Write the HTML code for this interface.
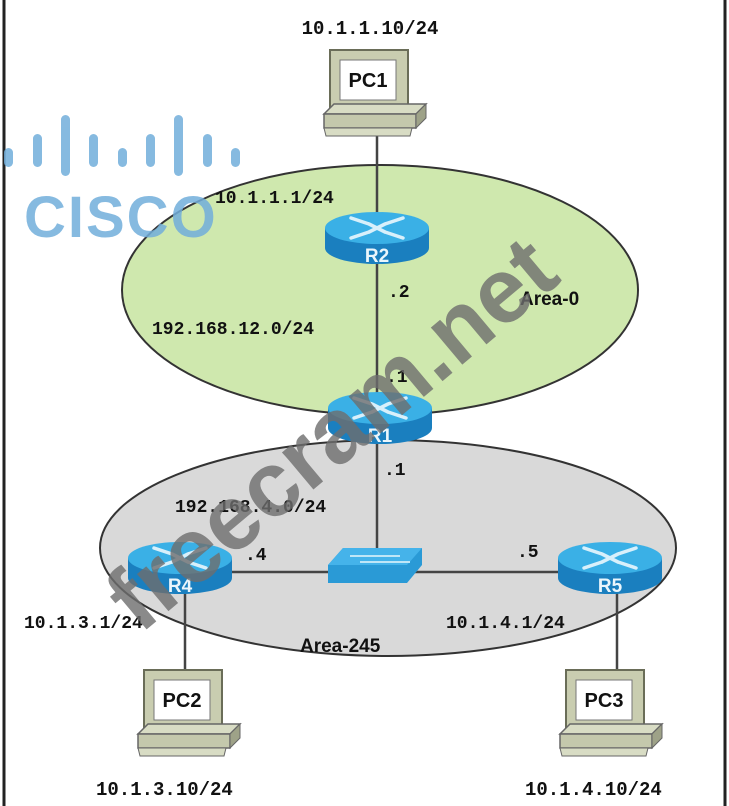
<!DOCTYPE html>
<html><head><style>
html,body{margin:0;padding:0;background:#fff;width:729px;height:806px;overflow:hidden}
svg{display:block}
text{font-family:"Liberation Mono","DejaVu Sans Mono",monospace;font-weight:bold;fill:#111}
.s{font-family:"Liberation Sans",sans-serif;font-weight:bold}
</style></head><body>
<svg width="729" height="806" viewBox="0 0 729 806" xmlns="http://www.w3.org/2000/svg">
<defs>
<g id="router">
  <path d="M-52,-8 L-52,12 A52,16 0 0 0 52,12 L52,-8 Z" fill="#1a7fbf"/>
  <ellipse cx="0" cy="-8" rx="52" ry="16" fill="#3ab0e6"/>
  <g stroke="#d8f0fb" stroke-width="3.5" fill="none" stroke-linecap="round">
    <path d="M-26,-18 L-8,-12 M-26,2 L-8,-4 M26,-18 L8,-12 M26,2 L8,-4 M-8,-12 L8,-4 M8,-12 L-8,-4"/>
  </g>
</g>
<g id="pc">
  <rect x="-42" y="-50" width="78" height="60" fill="#c9cdb0" stroke="#6a6d58" stroke-width="2"/>
  <rect x="-32" y="-40" width="56" height="40" fill="#fff" stroke="#777" stroke-width="1"/>
  <path d="M-48,14 L44,14 L54,4 L-38,4 Z" fill="#d8dcc4" stroke="#666" stroke-width="1.5"/>
  <rect x="-48" y="14" width="92" height="14" fill="#c4c8ac" stroke="#666" stroke-width="1.5"/>
  <path d="M44,14 L54,4 L54,18 L44,28 Z" fill="#9ea288" stroke="#666" stroke-width="1"/>
  <path d="M-48,28 L40,28 L38,36 L-46,36 Z" fill="#d8dcc4" stroke="#666" stroke-width="1"/>
</g>
</defs>
<rect x="0" y="0" width="729" height="806" fill="#fff"/>
<rect x="4" y="-2" width="721" height="812" fill="none" stroke="#222" stroke-width="3"/>

<ellipse cx="380" cy="290" rx="258" ry="125" fill="#cfe8ae" stroke="#333" stroke-width="2"/>
<ellipse cx="388" cy="548" rx="288" ry="108" fill="#d9d9d9" stroke="#333" stroke-width="2"/>

<g stroke="#444" stroke-width="2.5">
  <line x1="377" y1="120" x2="377" y2="565"/>
  <line x1="180" y1="572" x2="610" y2="572"/>
  <line x1="185" y1="580" x2="185" y2="680"/>
  <line x1="617" y1="580" x2="617" y2="680"/>
</g>

<use href="#pc" x="372" y="100"/>
<text x="368" y="87" class="s" font-size="20" text-anchor="middle">PC1</text>
<use href="#pc" x="186" y="720"/>
<text x="182" y="707" class="s" font-size="20" text-anchor="middle">PC2</text>
<use href="#pc" x="608" y="720"/>
<text x="604" y="707" class="s" font-size="20" text-anchor="middle">PC3</text>

<use href="#router" x="377" y="236"/>
<text x="377" y="262" class="s" font-size="19" style="fill:#eaf6fc" text-anchor="middle">R2</text>
<use href="#router" x="380" y="416"/>
<text x="380" y="442" class="s" font-size="19" style="fill:#eaf6fc" text-anchor="middle">R1</text>
<use href="#router" x="180" y="566"/>
<text x="180" y="592" class="s" font-size="19" style="fill:#eaf6fc" text-anchor="middle">R4</text>
<use href="#router" x="610" y="566"/>
<text x="610" y="592" class="s" font-size="19" style="fill:#eaf6fc" text-anchor="middle">R5</text>

<path d="M328,565 L343,548 L422,548 L422,565 L407,583 L328,583 Z" fill="#2a9ad6"/>
<path d="M328,565 L343,548 L422,548 L407,565 Z" fill="#45b3ea"/>
<path d="M350,556 L400,556 M360,562 L410,562" stroke="#bfe6f7" stroke-width="2"/>

<text x="370" y="34" font-size="19" text-anchor="middle">10.1.1.10/24</text>
<text x="215" y="203" font-size="18">10.1.1.1/24</text>
<text x="388" y="297" font-size="18">.2</text>
<text x="152" y="334" font-size="18">192.168.12.0/24</text>
<text x="386" y="382" font-size="18">.1</text>
<text x="384" y="475" font-size="18">.1</text>
<text x="175" y="512" font-size="18">192.168.4.0/24</text>
<text x="245" y="560" font-size="18">.4</text>
<text x="517" y="557" font-size="18">.5</text>
<text x="24" y="628" font-size="18">10.1.3.1/24</text>
<text x="446" y="628" font-size="18">10.1.4.1/24</text>
<text x="96" y="795" font-size="19">10.1.3.10/24</text>
<text x="525" y="795" font-size="19">10.1.4.10/24</text>
<text x="520" y="305" class="s" font-size="19">Area-0</text>
<text x="300" y="652" class="s" font-size="19">Area-245</text>

<g fill="#72aedb" opacity="0.85">
  <rect x="4" y="148" width="9" height="19" rx="4.5"/>
  <rect x="33" y="134" width="9" height="33" rx="4.5"/>
  <rect x="61" y="115" width="9" height="61" rx="4.5"/>
  <rect x="89" y="134" width="9" height="33" rx="4.5"/>
  <rect x="118" y="148" width="9" height="19" rx="4.5"/>
  <rect x="146" y="134" width="9" height="33" rx="4.5"/>
  <rect x="174" y="115" width="9" height="61" rx="4.5"/>
  <rect x="203" y="134" width="9" height="33" rx="4.5"/>
  <rect x="231" y="148" width="9" height="19" rx="4.5"/>
</g>
<text x="24" y="237" class="s" font-size="58" style="fill:#72aedb;opacity:0.85;letter-spacing:2px">CISCO</text>

<text x="0" y="0" class="s" font-size="92" style="fill:#6e6e6e;opacity:0.8" transform="translate(140,635) rotate(-40)">freecram.net</text>
</svg>
</body></html>
